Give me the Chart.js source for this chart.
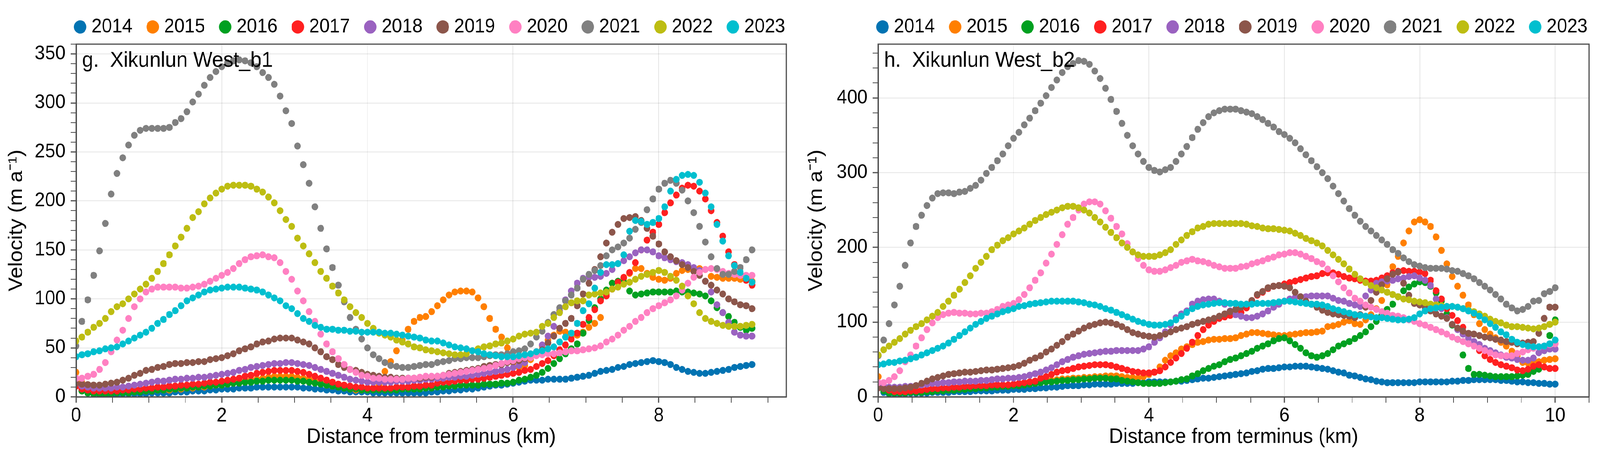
<!DOCTYPE html>
<html>
<head>
<meta charset="UTF-8">
<title>Xikunlun West velocity profiles</title>
<script src="https://cdn.jsdelivr.net/npm/chart.js"></script>
<style>
  html, body { margin: 0; padding: 0; background: #fff; overflow: hidden; }
  .wrap { position: absolute; left: 0; top: 0; display: flex; width: 4351px; height: 1170px; transform-origin: 0 0; }
  .panel { position: relative; height: 1170px; }
  #p1 { width: 2175px; }
  #p2 { width: 2176px; }
</style>
</head>
<body>
<div class="wrap" id="wrap">
  <div class="panel" id="p1"><canvas id="chartB1"></canvas></div>
  <div class="panel" id="p2"><canvas id="chartB2"></canvas></div>
</div>

<script>
// ---- data ----
const years = ["2014", "2015", "2016", "2017", "2018", "2019", "2020", "2021", "2022", "2023"];
const colors = ["#0173b2", "#ff7f00", "#00a020", "#ff2020", "#9a62c0",
                "#8c564b", "#ff80c2", "#808080", "#bdbd12", "#00bfcf"];

// distance from terminus (km) of each profile sample
const distB2 = [
  0,0.08,0.16,0.24,0.32,0.4,0.48,0.56,0.64,0.72,
  0.8,0.88,0.96,1.04,1.12,1.2,1.28,1.36,1.44,1.52,
  1.6,1.68,1.76,1.84,1.92,2,2.08,2.16,2.24,2.32,
  2.4,2.48,2.56,2.64,2.72,2.8,2.88,2.96,3.04,3.12,
  3.2,3.28,3.36,3.44,3.52,3.6,3.68,3.76,3.84,3.92,
  4,4.08,4.16,4.24,4.32,4.4,4.48,4.56,4.64,4.72,
  4.8,4.88,4.96,5.04,5.12,5.2,5.28,5.36,5.44,5.52,
  5.6,5.68,5.76,5.84,5.92,6,6.08,6.16,6.24,6.32,
  6.4,6.48,6.56,6.64,6.72,6.8,6.88,6.96,7.04,7.12,
  7.2,7.28,7.36,7.44,7.52,7.6,7.68,7.76,7.84,7.92,
  8,8.08,8.16,8.24,8.32,8.4,8.48,8.56,8.64,8.72,
  8.8,8.88,8.96,9.04,9.12,9.2,9.28,9.36,9.44,9.52,
  9.6,9.68,9.76,9.84,9.92,10
];
const distB1 = distB2.slice(0, 117);

// g. Xikunlun West_b1, velocity (m/a)
const b1_2014 = [13,7,4,3,2,2,2,2,3,3, 3,3,3,4,4,4,4,5,5,5, 6,6,6,7,7,8,8,8,9,9,
  9,10,10,10,10,10,10,10,10,9, 9,8,8,7,7,6,6,5,5,5, 5,4,4,4,4,4,4,4,4,4,
  4,5,5,6,6,7,7,8,8,9, 10,11,12,12,13,14,15,16,17,17, 17,18,18,18,18,19,20,21,22,24,
  26,27,28,30,31,33,34,35,36,37, 36,35,33,30,28,26,25,24,24,25, 26,27,28,30,31,32,33];
const b1_2015 = [25,15,10,7,6,5,5,5,5,5, 5,6,6,6,7,7,7,8,8,9, 9,10,10,11,12,12,13,14,15,16,
  17,18,19,20,21,21,21,21,20,19, 18,16,14,12,11,10,9,8,7,7, 7,9,12,26,36,47,58,69,77,81,
  82,87,93,99,104,107,108,108,107,101, 92,80,69,61,50,35,30,32,38,45, 52,58,63,67,66,64,63,66,71,75,
  81,105,116,118,121,126,131,131,126,122, 120,119,121,126,129,130,131,131,130,123, 122,121,121,121,120,120,118];
const b1_2016 = [12,6,4,3,3,3,3,4,4,4, 5,5,6,6,7,7,8,8,9,9, 10,10,11,11,12,12,13,14,14,15,
  15,16,16,17,17,17,17,17,16,16, 15,14,13,12,11,10,9,8,8,7, 7,7,7,7,7,7,8,8,8,8,
  9,9,10,10,11,11,12,12,12,12, 13,13,13,14,14,15,17,18,20,22, 25,29,34,39,44,49,54,65,78,91,
  100,109,116,118,117,108,104,105,106,107, 107,107,107,108,107,107,106,105,103,98, 91,86,82,76,71,68,70];
const b1_2017 = [11,8,7,6,6,6,6,6,7,7, 8,8,9,9,10,10,11,11,12,12, 13,13,14,15,15,16,17,18,19,21,
  22,24,25,26,27,27,27,27,26,25, 23,21,19,17,15,13,12,11,10,10, 9,9,9,9,9,10,10,10,11,11,
  12,12,14,15,15,16,17,17,18,18, 19,20,21,22,23,24,25,27,28,31, 34,37,42,48,53,59,65,74,81,89,
  98,103,110,117,122,127,137,150,160,168, 176,188,198,206,213,216,215,210,202,190, 178,164,148,135,125,119,114];
const b1_2018 = [14,11,10,9,9,9,9,10,10,11, 12,13,14,15,16,16,17,18,18,19, 19,20,20,21,22,23,24,25,27,28,
  30,31,32,33,34,34,35,35,34,33, 32,30,28,26,24,22,20,18,17,16, 15,15,15,15,15,16,16,16,17,17,
  18,18,19,19,20,20,21,21,22,23, 24,25,26,27,28,30,32,35,40,46, 53,62,72,88,99,108,116,121,122,122,
  123,126,130,136,139,143,147,150,150,148, 144,142,140,138,137,135,132,129,118,107, 94,86,76,66,63,62,62];
const b1_2019 = [14,13,12.5,12,12,13,14,15,17,19, 22,24,27,28,30,31,33,34,34,35, 35,36,36,38,39,40,42,44,47,49,
  51,54,56,57,59,60,60,60,58,56, 54,50,46,41,38,33,30,28,27,25, 23,22,21,20,20,19,19,19,19,19,
  20,20,21,22,24,25,26,27,28,29, 31,32,33,33,35,36,37,39,41,44, 48,55,62,70,75,80,93,105,116,130,
  143,157,168,176,182,183,184,180,172,164, 156,148,143,139,135,132,128,124,118,114, 109,105,100,97,94,93,90];
const b1_2020 = [19,19,21,23,28,35,46,58,68,80, 92,100,107,110,112,112,112,112,111,111, 112,113,115,118,121,124,127,131,136,140,
  143,144,145,143,142,137,128,120,108,98, 87,77,64,54,46,39,33,28,25,22, 21,19,19,18,18,18,18,19,19,20,
  21,21,21,22,23,24,25,26,27,28, 29,30,32,34,36,37,39,40,40,42, 43,44,44,45,46,47,47,48,49,50,
  52,56,59,63,68,72,77,81,86,90, 93,96,99,103,109,116,122,127,130,131, 130,128,126,125,124,124,124];
const b1_2021 = [52,77,99,124,149,177,207,228,244,257, 267,272,274,274,274,274,275,280,284,291, 301,309,318,326,332,337,341,343,344,343,
  341,337,331,326,319,307,292,279,256,237, 218,194,172,151,132,114,97,81,69,59, 50,43,39,35,32,31,30,30,31,32,
  33,33,35,36,37,39,39,40,40,40, 41,42,43,43,44,46,47,49,54,61, 67,76,84,91,98,104,111,120,125,129,
  134,144,150,153,157,162,171,178,191,202, 212,218,221,218,211,200,188,174,158,143, 131,125,125,128,132,140,150];
const b1_2022 = [57,61,66,71,75,80,87,92,95,100, 105,110,115,121,128,136,145,154,163,172, 183,189,197,203,208,212,215,216,216,216,
  215,212,209,204,198,190,181,174,162,154, 146,137,128,121,113,106,99,92,86,81, 75,70,65,63,61,58,56,54,51,50,
  48,47,46,45,44,43,43,44,47,49, 51,52,54,55,57,59,62,64,65,66, 72,75,81,86,92,96,98,98,104,105,
  106,107,110,112,115,117,120,123,125,127, 129,127,123,119,113,103,95,86,80,77, 75,73,72,72,72,73,74];
const b1_2023 = [41,43,44,46,47,49,50,51,54,57, 60,63,66,70,75,79,84,88,93,98, 101,104,107,109,110,111,112,112,112,111,
  110,109,107,104,101,98,93,90,85,80, 77,73,71,69,69,68,68,67,67,66, 66,66,66,65,65,64,63,62,61,60,
  58,57,57,55,53,51,50,49,47,46, 44,43,42,41,41,41,42,43,44,46, 47,49,51,56,61,65,75,88,95,111,
  127,135,135,136,145,169,180,179,176,178, 182,194,210,222,226,227,226,219,208,194, 176,159,144,134,127,121,117];

// h. Xikunlun West_b2, velocity (m/a)
const b2_2014 = [14,6,4,4,4,4,5,5,5,5, 6,6,6,6,7,7,7,7,8,8, 8,8,9,9,9,10,10,10,11,11,
  12,12,13,13,14,15,15,15,16,16, 17,17,17,17,18,18,18,18,19,19, 20,20,20,20,20,21,21,22,23,24,
  25,25,26,27,28,29,30,31,32,34, 35,37,38,38,39,40,40,41,41,41, 40,39,38,37,35,33,32,29,28,26,
  24,23,21,20,19,19,19,19,19,19, 20,20,20,20,20,20,21,21,22,22, 23,23,23,23,23,22,22,21,20,20,
  19,19,18,18,17,17];
const b2_2015 = [27,15,10,8,7,7,7,8,8,9, 9,10,10,11,11,11,12,12,12,13, 13,14,14,15,15,16,17,18,19,20,
  21,22,22,23,24,24,25,25,26,26, 27,27,28,28,28,27,26,26,25,27, 30,33,40,49,55,59,64,67,70,73,
  74,76,77,77,78,78,79,82,84,86, 86,85,84,83,82,82,83,84,85,86, 86,87,88,94,95,97,100,102,98,97,
  103,110,118,129,150,174,188,206,222,234, 237,234,228,214,196,178,161,148,136,123, 110,98,90,84,79,73,68,61,55,46,
  45,46,47,49,50,51];
const b2_2016 = [15,8,5,5,5,5,6,6,6,7, 7,8,8,9,9,10,10,11,11,12, 12,13,13,14,14,15,15,16,17,18,
  19,20,20,21,22,22,23,23,24,24, 25,25,25,24,24,22,21,20,19,18, 18,18,18,19,20,21,23,24,28,31,
  35,38,41,43,47,50,52,55,58,61, 65,68,71,75,78,79,75,70,65,59, 55,53,55,58,63,68,71,74,78,82,
  87,94,101,109,117,124,134,142,147,151, 154,153,148,139,128,111,96,77,56,38, 30,30,29,28,27,27,27,27,28,29,
  30,34,37,62,82,103];
const b2_2017 = [15,12,9,7,7,7,8,8,9,10, 11,11,12,12,13,13,14,14,15,15, 15,16,16,16,16,17,18,19,20,21,
  25,27,30,33,35,36,38,40,41,42, 43,43,43,42,40,38,36,34,33,32, 32,33,35,40,46,52,58,65,73,82,
  90,96,101,105,107,109,111,113,119,128, 136,140,145,148,149,151,153,155,157,159, 161,162,165,166,166,164,161,159,158,156,
  155,155,156,159,162,166,168,169,168,168, 167,165,156,142,131,118,109,102,93,84, 70,62,55,50,46,43,41,39,36,35,
  37,41,43,40,38,38];
const b2_2018 = [18,15,13,13,13,14,14,15,16,17, 18,18,19,19,20,20,21,21,21,22, 22,23,24,24,25,25,26,27,29,31,
  33,36,39,43,47,50,53,55,57,58, 59,60,61,61,62,62,62,62,62,64, 67,73,79,87,96,106,111,115,124,128,
  130,131,131,128,124,115,110,108,106,106, 108,111,115,120,124,128,131,133,134,134, 135,135,135,135,132,129,128,125,123,121,
  135,143,152,154,155,156,158,159,161,162, 159,156,149,131,118,106,97,90,84,79, 74,70,65,62,59,56,53,52,50,49,
  49,52,59,62,64,64];
const b2_2019 = [12,11,11,11,11,12,13,15,18,21, 24,26,28,30,31,32,33,33,34,35, 36,36,37,38,39,40,42,45,49,52,
  55,60,64,69,74,80,84,88,92,95, 97,99,100,99,97,94,90,86,84,82, 81,80,82,84,87,90,92,94,97,99,
  101,103,105,108,111,114,117,120,124,129, 137,141,146,148,149,148,146,140,134,128, 124,120,116,113,111,110,109,108,106,110,
  120,129,140,150,158,164,167,152,136,125, 123,120,115,111,108,105,97,92,88,85, 84,82,80,79,77,76,74,73,71,72,
  73,74,85,105,120,120];
const b2_2020 = [19,19,22,27,35,47,56,68,79,90, 99,106,110,112,113,112,112,111,111,112, 112,114,117,121,123,125,130,137,146,156,
  166,179,191,204,217,231,240,250,258,261, 261,258,249,239,228,218,205,194,185,176, 170,168,168,170,173,176,180,182,184,182,
  181,179,176,174,172,172,172,174,175,178, 180,182,185,187,190,191,193,193,191,188, 185,181,178,171,162,154,146,139,132,128,
  123,120,117,114,112,109,108,106,103,101, 98,96,93,90,87,84,80,77,74,71, 68,65,62,59,56,55,55,55,58,60,
  63,65,67,68,70,71];
const b2_2021 = [55,76,98,123,148,176,206,228,243,256, 266,272,273,273,272,274,275,279,283,290, 299,307,316,325,336,346,354,364,373,383,
  393,403,414,424,434,442,446,450,449,445, 436,426,413,398,382,366,350,336,325,315, 307,303,301,304,307,315,325,335,347,358,
  367,375,380,383,385,385,385,383,381,379, 375,371,366,361,355,351,346,340,332,324, 316,308,300,292,282,272,262,252,243,235,
  228,222,216,210,204,197,192,186,181,177, 175,173,172,172,172,171,169,168,165,162, 158,153,148,143,137,131,124,119,115,117,
  121,128,129,138,141,146];
const b2_2022 = [56,63,68,73,78,84,89,94,98,103, 108,113,121,128,136,144,153,162,172,180, 188,197,203,209,213,218,222,226,231,236,
  240,244,247,250,253,255,255,253,250,246, 240,234,227,220,213,206,200,194,190,188, 188,188,190,193,197,204,210,216,221,226,
  228,231,232,232,232,232,232,232,231,229, 228,226,225,225,224,223,222,219,216,212, 209,206,202,196,190,184,178,171,164,158,
  153,149,146,143,140,137,134,131,130,128, 127,126,124,123,122,121,121,120,118,116, 114,111,108,104,101,99,96,94,94,93,
  92,91,92,94,97,100];
const b2_2023 = [43,44,46,46,48,49,51,53,56,59, 62,65,68,72,77,82,87,92,97,101, 105,108,111,114,116,118,121,122,124,125,
  126,127,128,128,128,128,128,127,126,124, 123,121,118,116,113,110,107,104,101,99, 97,96,96,97,99,103,108,113,118,121,
  123,124,125,126,126,125,125,124,124,124, 125,125,125,126,127,128,128,127,126,125, 124,124,123,121,118,116,114,112,110,109,
  108,107,106,106,105,104,103,103,104,106, 111,115,118,119,120,121,121,120,118,115, 112,108,103,98,93,87,83,77,73,70,
  68,67,67,68,71,76];

// axis ticks
const xMajorB1 = [0, 2, 4, 6, 8];
const xMajorB2 = [0, 2, 4, 6, 8, 10];
const yMajorB1 = [0, 50, 100, 150, 200, 250, 300, 350];
const yMajorB2 = [0, 100, 200, 300, 400];

// ---- drawing ----
// the page is laid out at 4351x1170 and scaled to whatever the viewport really is
const PAGE_W = 4351, PAGE_H = 1170;
const sx = window.innerWidth ? window.innerWidth / PAGE_W : 1;
const sy = window.innerHeight ? window.innerHeight / PAGE_H : 1;
document.getElementById('wrap').style.transform = 'scale(' + sx + ',' + sy + ')';

const FONT = '"Liberation Sans", Arial, Helvetica, sans-serif';
Chart.defaults.font.family = FONT;
Chart.defaults.color = '#000';

const AXIS_COLOR = '#4d4d4d';
const GRID_COLOR = 'rgba(0,0,0,0.10)';

function minorTicks(max, step) {
  const t = [];
  for (let i = 0; i * step <= max + 1e-9; i++) t.push({ value: Math.round(i * step * 100) / 100 });
  return t;
}

function makeDatasets(dist, series) {
  return series.map((vals, i) => ({
    label: years[i],
    data: vals.map((v, k) => ({ x: dist[k], y: v })),
    backgroundColor: colors[i],
    borderColor: colors[i],
    borderWidth: 0,
    pointRadius: 9,
    pointHoverRadius: 9,
    showLine: false,
    order: years.length - i
  }));
}

function axisX(max, step, majors) {
  return {
    type: 'linear', min: 0, max: max,
    afterBuildTicks: (s) => { s.ticks = minorTicks(max, step); },
    afterFit: (s) => { s.height = 154; },
    ticks: {
      autoSkip: false, maxRotation: 0, padding: 4,
      font: { size: 50 },
      callback: (v) => majors.includes(v) ? String(v) : ''
    },
    grid: {
      color: (c) => (c.tick && majors.includes(c.tick.value)) ? GRID_COLOR : 'rgba(0,0,0,0)',
      lineWidth: 2,
      tickColor: AXIS_COLOR,
      tickLength: 15,
      tickWidth: (c) => (c.tick && majors.includes(c.tick.value)) ? 3 : 2
    },
    border: { color: AXIS_COLOR, width: 3 },
    title: {
      display: true, text: 'Distance from terminus (km)',
      font: { size: 54 }, padding: { top: 0, bottom: 18 }
    }
  };
}

function axisY(max, step, majors, width) {
  return {
    type: 'linear', min: 0, max: max,
    afterBuildTicks: (s) => { s.ticks = minorTicks(max, step); },
    afterFit: (s) => { s.width = width; },
    ticks: {
      autoSkip: false, padding: 14,
      font: { size: 50 },
      callback: (v) => majors.includes(v) ? String(v) : ''
    },
    grid: {
      color: (c) => (c.tick && majors.includes(c.tick.value)) ? GRID_COLOR : 'rgba(0,0,0,0)',
      lineWidth: 2,
      tickColor: AXIS_COLOR,
      tickLength: 15,
      tickWidth: (c) => (c.tick && majors.includes(c.tick.value)) ? 3 : 2
    },
    border: { color: AXIS_COLOR, width: 3 },
    title: {
      display: true, text: 'Velocity (m a\u207B\u00B9)',
      font: { size: 54 }, padding: { top: 13, bottom: 0 }
    }
  };
}

// frame, panel label and legend placement
const panelDecor = {
  id: 'panelDecor',
  beforeLayout(chart, args, opts) {
    const lg = chart.legend;
    if (lg && !lg._fixedFit) {
      const fit = lg.fit;
      lg.fit = function () { fit.call(this); this.height = opts.legendHeight; };
      lg._fixedFit = true;
    }
  },
  afterLayout(chart, args, opts) {
    const lg = chart.legend;
    lg.left = opts.legendLeft;
    lg.right = chart.width + 400;
    lg.top = opts.legendTop;
  },
  afterDatasetsDraw(chart, args, opts) {
    const { ctx, chartArea: a } = chart;
    ctx.save();
    ctx.strokeStyle = AXIS_COLOR;
    ctx.lineWidth = 3;
    ctx.strokeRect(a.left, a.top, a.right - a.left, a.bottom - a.top);
    ctx.fillStyle = '#000';
    ctx.font = '55px ' + FONT;
    ctx.textAlign = 'left';
    ctx.textBaseline = 'alphabetic';
    ctx.fillText(opts.label, a.left + 16, a.top + 58);
    ctx.restore();
  }
};

function buildChart(id, dist, series, o) {
  return new Chart(document.getElementById(id), {
    type: 'scatter',
    data: { datasets: makeDatasets(dist, series) },
    options: {
      responsive: true,
      maintainAspectRatio: false,
      animation: false,
      events: [],
      layout: { padding: { left: 0, right: o.padRight, top: 0, bottom: 0 } },
      scales: {
        x: axisX(o.xMax, 0.5, o.xMajor),
        y: axisY(o.yMax, o.yStep, o.yMajor, o.yWidth)
      },
      plugins: {
        tooltip: { enabled: false },
        legend: {
          position: 'top', align: 'start',
          labels: {
            usePointStyle: true, pointStyle: 'circle',
            boxWidth: 12, boxHeight: 24, padding: 49,
            font: { size: 50 }, color: '#000',
            sort: (a, b) => a.datasetIndex - b.datasetIndex
          }
        },
        panelDecor: { label: o.label, legendLeft: o.legendLeft, legendTop: -5, legendHeight: 113 }
      }
    },
    plugins: [panelDecor]
  });
}

buildChart('chartB1', distB1,
  [b1_2014, b1_2015, b1_2016, b1_2017, b1_2018, b1_2019, b1_2020, b1_2021, b1_2022, b1_2023],
  { label: 'g.  Xikunlun West_b1', xMax: 9.75, xMajor: xMajorB1, yMax: 360, yStep: 10,
    yMajor: yMajorB1, yWidth: 207, padRight: 37, legendLeft: 163 });

buildChart('chartB2', distB2,
  [b2_2014, b2_2015, b2_2016, b2_2017, b2_2018, b2_2019, b2_2020, b2_2021, b2_2022, b2_2023],
  { label: 'h.  Xikunlun West_b2', xMax: 10.5, xMajor: xMajorB2, yMax: 472, yStep: 20,
    yMajor: yMajorB2, yWidth: 213, padRight: 30, legendLeft: 170 });
</script>
</body>
</html>
